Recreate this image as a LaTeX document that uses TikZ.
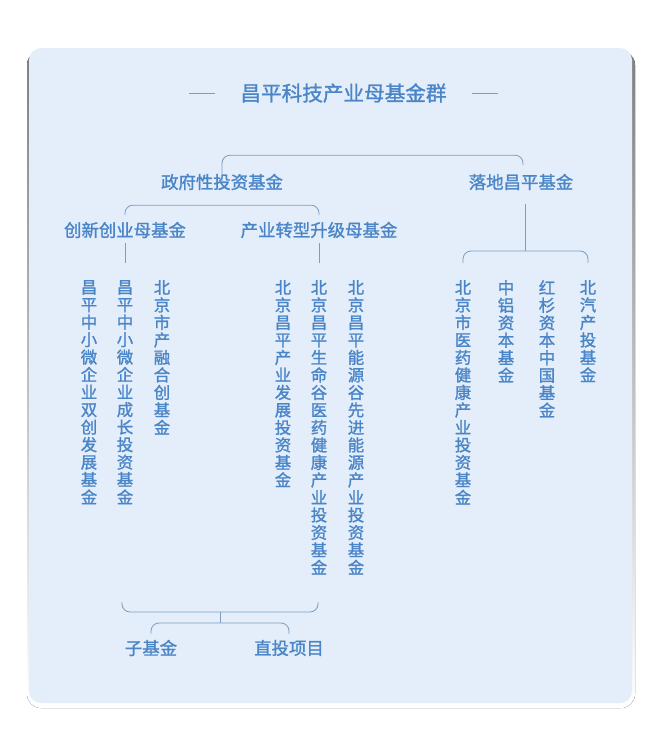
\documentclass[tikz,border=0pt]{standalone}
\usepackage{fontspec}
\newfontfamily\cjk{Noto Sans CJK SC}[FakeBold=1.3]
\definecolor{txtblue}{HTML}{4A85C8}
\definecolor{lineblue}{HTML}{7C9CC0}
\definecolor{panel}{HTML}{E4EEFA}
\definecolor{shade}{HTML}{F3F6FA}
\begin{document}
\begin{tikzpicture}[x=1pt,y=-1pt,
  lbl/.style={inner sep=0pt,text=txtblue,font=\cjk\fontsize{17.4}{17.4}\selectfont},
  ttl/.style={inner sep=0pt,text=txtblue,font=\cjk\fontsize{20.6}{20.6}\selectfont},
  vcol/.style={inner sep=0pt,anchor=north,align=center,text=txtblue,font=\cjk\fontsize{16.4}{17.5}\selectfont},
  br/.style={draw=lineblue,line width=0.8pt,rounded corners=8pt},
  ln/.style={draw=lineblue,line width=0.8pt}]
\useasboundingbox (0,0) rectangle (660,739);
\fill[white] (0,0) rectangle (660,739);
% panel with soft shadow
\fill[shade,rounded corners=14pt] (27,51) rectangle (635,708);
\fill[panel,rounded corners=12pt] (29,48) rectangle (632,703);
% title
\node[ttl] (T) at (343.5,93) {昌平科技产业母基金群};
\draw[ln] ([xshift=-25pt]T.west) -- ++(-26,0);
\draw[ln] ([xshift=25pt]T.east) -- ++(26,0);
% level 1
\node[lbl] (zf) at (222,182) {政府性投资基金};
\node[lbl] (ld) at (521,182) {落地昌平基金};
\draw[br] ([yshift=-8.5pt]zf.north) |- ([xshift=2pt,yshift=18.5pt]ld.north) -- ([xshift=2pt,yshift=8.5pt]ld.north);
% level 2
\node[lbl] (cx) at (125,230) {创新创业母基金};
\node[lbl] (cy) at (319,230) {产业转型升级母基金};
\draw[br] ([yshift=6.5pt]cx.north) |- ([yshift=16.5pt]cy.north) -- ([yshift=6.5pt]cy.north);
% columns, left group
\node[vcol] (l1) at (89,280) {昌\\平\\中\\小\\微\\企\\业\\双\\创\\发\\展\\基\\金};
\node[vcol] (l2) at (125,280) {昌\\平\\中\\小\\微\\企\\业\\成\\长\\投\\资\\基\\金};
\node[vcol] (l3) at (162,280) {北\\京\\市\\产\\融\\合\\创\\基\\金};
% middle group
\node[vcol] (m1) at (283,280) {北\\京\\昌\\平\\产\\业\\发\\展\\投\\资\\基\\金};
\node[vcol] (m2) at (319,280) {北\\京\\昌\\平\\生\\命\\谷\\医\\药\\健\\康\\产\\业\\投\\资\\基\\金};
\node[vcol] (m3) at (356,280) {北\\京\\昌\\平\\能\\源\\谷\\先\\进\\能\\源\\产\\业\\投\\资\\基\\金};
% right group
\node[vcol] (r1) at (463,280) {北\\京\\市\\医\\药\\健\\康\\产\\业\\投\\资\\基\\金};
\node[vcol] (r2) at (506,280) {中\\铝\\资\\本\\基\\金};
\node[vcol] (r3) at (547,280) {红\\杉\\资\\本\\中\\国\\基\\金};
\node[vcol] (r4) at (588,280) {北\\汽\\产\\投\\基\\金};
% short links
\draw[ln] ([yshift=-4.5pt]cx.south) -- ([yshift=17pt]l2.north);
\draw[ln] ([yshift=-4.5pt]cy.south) -- ([yshift=17pt]m2.north);
% right bracket
\coordinate (rtop) at ([yshift=29pt]r4.north);
\draw[br] ([yshift=17pt]r1.north) |- (rtop) -- ([yshift=17pt]r4.north);
\draw[ln] ([xshift=4pt,yshift=-14pt]ld.south) -- ([xshift=4pt]ld.south |- rtop);
% bottom
\node[lbl] (zj) at (151,648) {子基金};
\node[lbl] (zt) at (289,648) {直投项目};
\coordinate (bl) at (122,602);
\coordinate (br) at (318,612);
\coordinate (bm) at (220,612);
\coordinate (bm2) at (220,623);
\draw[br] (bl) |- (br) -- ++(0,-10);
\draw[ln] (bm) -- (bm2);
\draw[br] ([yshift=6pt]zj.north) |- (bm2) -| ([yshift=6pt]zt.north);
\end{tikzpicture}
\end{document}
